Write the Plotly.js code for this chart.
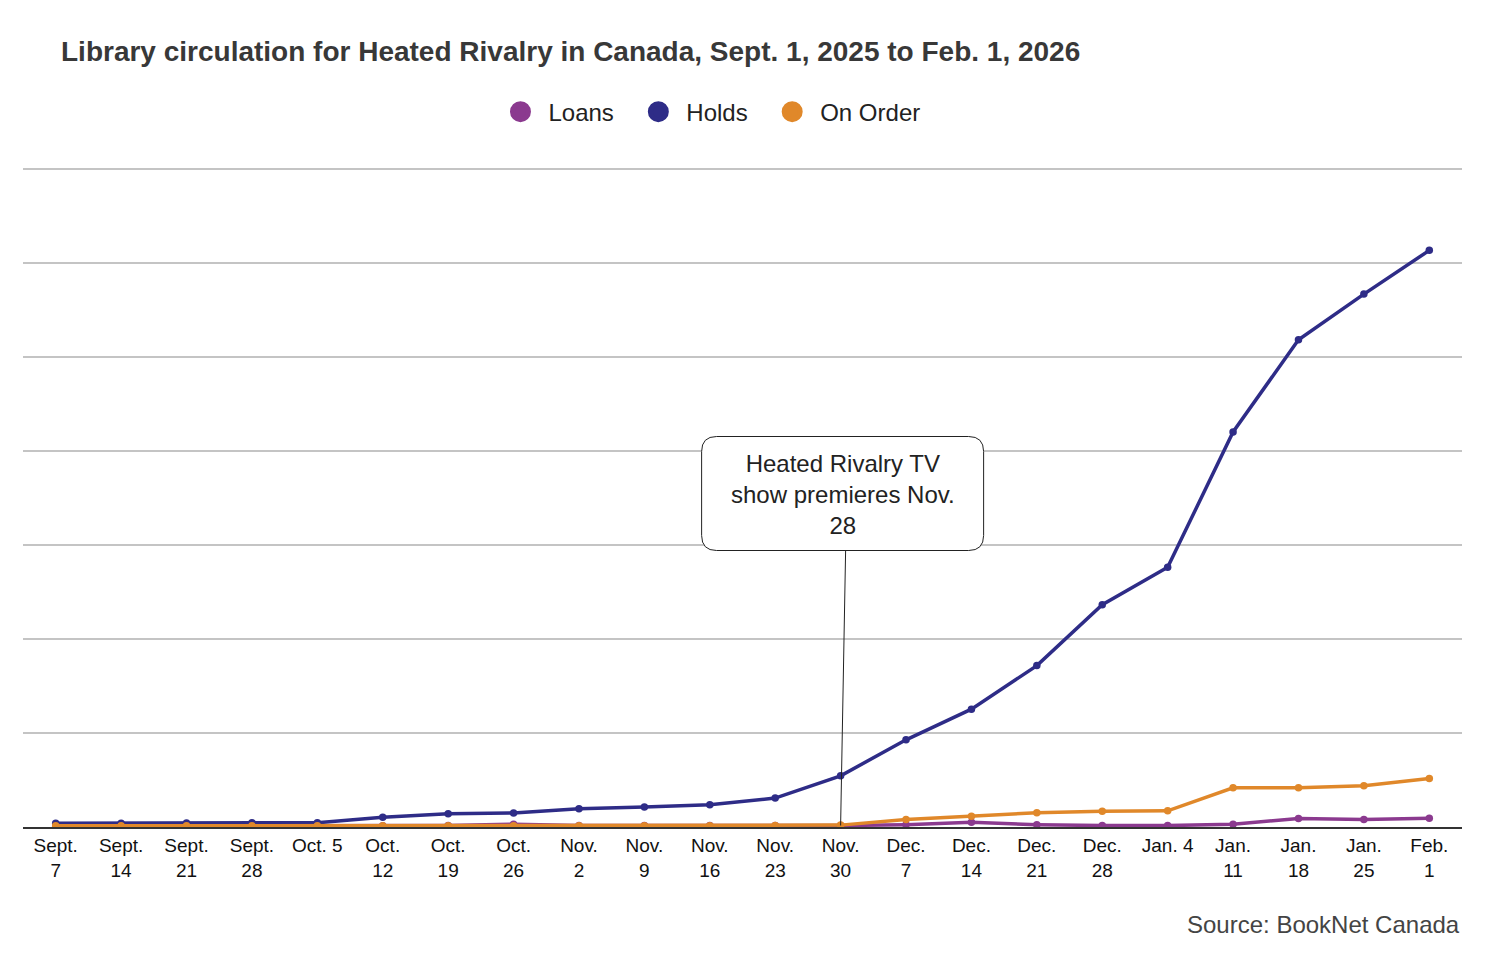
<!DOCTYPE html>
<html>
<head>
<meta charset="utf-8">
<script src="https://cdn.plot.ly/plotly-3.0.1.min.js"></script>
<style>
  html, body { margin: 0; padding: 0; background: #fff; }
  #chart { width: 1486px; height: 956px; }
</style>
</head>
<body>
<div id="chart"></div>
<script>
// ---- Data (weekly) ----
const weeks = ["2025-09-07","2025-09-14","2025-09-21","2025-09-28","2025-10-05","2025-10-12","2025-10-19","2025-10-26",
               "2025-11-02","2025-11-09","2025-11-16","2025-11-23","2025-11-30","2025-12-07","2025-12-14","2025-12-21",
               "2025-12-28","2026-01-04","2026-01-11","2026-01-18","2026-01-25","2026-02-01"];
const tickLabels = ["Sept.<br>7","Sept.<br>14","Sept.<br>21","Sept.<br>28","Oct. 5","Oct.<br>12","Oct.<br>19","Oct.<br>26",
                    "Nov.<br>2","Nov.<br>9","Nov.<br>16","Nov.<br>23","Nov.<br>30","Dec.<br>7","Dec.<br>14","Dec.<br>21",
                    "Dec.<br>28","Jan. 4","Jan.<br>11","Jan.<br>18","Jan.<br>25","Feb.<br>1"];

const loans   = [10,10,10,10,10,12,15,30,15,15,15,15,15,25,50,25,15,15,30,90,80,94];
const holds   = [39,39,43,46,46,103,141,149,195,213,237,308,545,928,1254,1718,2367,2764,4205,5186,5673,6138];
const onOrder = [12,12,12,12,12,12,12,12,12,14,14,15,20,80,115,151,168,172,417,417,438,516];

const seriesNames  = ["Loans","Holds","On Order"];
const seriesColors = ["#8b3a8f","#2e2c87","#e0882a"];

const annotationText = "Heated Rivalry TV<br>show premieres Nov.<br>28";
const annotationWeek = "2025-11-30";
const sourceText = "Source: BookNet Canada";
const titleText = "Library circulation for Heated Rivalry in Canada, Sept. 1, 2025 to Feb. 1, 2026";

// ---- Build traces ----
const idx = weeks.map((_, i) => i);
const values = [loans, holds, onOrder];
const traces = [];
values.forEach((v, k) => {
  traces.push({
    type: "scatter", mode: "lines+markers",
    x: idx, y: v, name: seriesNames[k],
    showlegend: false,
    line: { color: seriesColors[k], width: 3.5 },
    marker: { color: seriesColors[k], size: 7.5 },
    hoverinfo: "x+y+name"
  });
});
// legend-only markers (trailing no-break spaces widen the gap between entries)
seriesNames.forEach((n, k) => {
  traces.push({
    type: "scatter", mode: "markers", x: [null], y: [null],
    name: k < seriesNames.length - 1 ? n + "\u00a0\u2009" : n,
    marker: { color: seriesColors[k], size: 22, line: { color: seriesColors[k], width: 5 } }, showlegend: true
  });
});

const annIdx = weeks.indexOf(annotationWeek);
const font = "Arial, 'Liberation Sans', Helvetica, sans-serif";

const r = 15, L = -139, R = 143, B = 276.5, T = 390.5;
const boxPath = `M ${L + r},${B} L ${R - r},${B} Q ${R},${B} ${R},${B + r} L ${R},${T - r} Q ${R},${T} ${R - r},${T} ` +
                `L ${L + r},${T} Q ${L},${T} ${L},${T - r} L ${L},${B + r} Q ${L},${B} ${L + r},${B} Z`;

const layout = {
  width: 1486, height: 956,
  paper_bgcolor: "#fff", plot_bgcolor: "#fff",
  margin: { l: 23, r: 24, t: 160, b: 128.5 },
  font: { family: font, color: "#111" },
  title: {
    text: titleText, xref: "container", yref: "container",
    x: 61 / 1486, xanchor: "left", y: 1 - 51 / 956, yanchor: "middle",
    font: { family: font, size: 28, color: "#383838", weight: "bold" }
  },
  showlegend: true,
  legend: {
    orientation: "h", x: 0.4767, xanchor: "center", y: 1.0719, yanchor: "middle",
    font: { family: font, size: 24, color: "#222" }, itemclick: false, itemdoubleclick: false,
    itemwidth: 46
  },
  xaxis: {
    type: "linear", range: [-0.5, 21.5], tickmode: "array", tickvals: idx, ticktext: tickLabels,
    showgrid: false, zeroline: false, showline: true, linecolor: "#333", linewidth: 2,
    ticks: "", tickfont: { family: font, size: 19, color: "#111" }, fixedrange: true
  },
  yaxis: {
    range: [0, 7100], tick0: 0, dtick: 1000, showticklabels: false, showgrid: true,
    gridcolor: "#c4c4c4", gridwidth: 1.6, zeroline: false, showline: false, ticks: "", fixedrange: true
  },
  shapes: [
    { type: "line", layer: "above", xref: "x", yref: "y",
      xsizemode: "pixel", ysizemode: "pixel", xanchor: annIdx, yanchor: 0,
      x0: 5, y0: B, x1: 0, y1: 1.5, line: { color: "#222", width: 1 } },
    { type: "path", layer: "above", xref: "x", yref: "y",
      xsizemode: "pixel", ysizemode: "pixel", xanchor: annIdx, yanchor: 0,
      path: boxPath, fillcolor: "#fff", line: { color: "#222", width: 1 } }
  ],
  annotations: [
    { text: annotationText, x: annIdx, y: 0, xref: "x", yref: "y", showarrow: false,
      xanchor: "center", yanchor: "middle", xshift: 2, yshift: 333, align: "center",
      font: { family: font, size: 24, color: "#222" } },
    { text: sourceText, xref: "paper", yref: "paper", x: 1, xanchor: "right",
      y: -0.146, yanchor: "middle", showarrow: false,
      font: { family: font, size: 24, color: "#444" } }
  ]
};

Plotly.newPlot("chart", traces, layout, { displayModeBar: false, responsive: false });
</script>
</body>
</html>
